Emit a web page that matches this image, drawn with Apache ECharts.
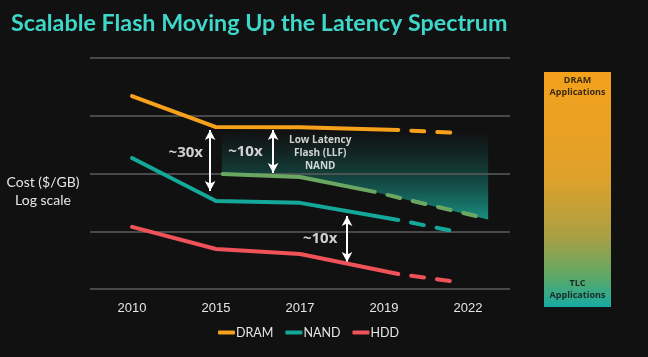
<!DOCTYPE html>
<html><head><meta charset="utf-8">
<script src="https://cdn.jsdelivr.net/npm/echarts@6/dist/echarts.min.js"></script>
<style>html,body{margin:0;padding:0;background:#111111;}#c{width:648px;height:357px;}</style>
</head><body><div id="c"></div>
<script>
// ---- data ----
const categories = ['2010', '2015', '2017', '2019', '2022'];
// x positions (in category-index units) of the plotted points
const solidX = [0, 1, 2, 3.17];
const dashX = [3.17, 3.88];
const dramSolid = [2190, 638, 630, 565];
const dramDash = [565, 503];
const nandSolid = [185, 33.4, 31, 15.7];
const nandDash = [15.7, 9.7];
const hddSolid = [11.9, 4.93, 4.04, 1.82];
const hddDash = [1.82, 1.32];
const llfSolidX = [1.08, 2.0, 2.89];
const llfSolid = [98, 87, 48];
const llfDashX = [2.89, 4.19];
const llfDash = [48, 17];
// LLF opportunity region (upper edge, then lower edge along LLF line)
const regionX = [1.07, 4.24, 4.24, 2.89, 2.0, 1.07];
const regionY = [560, 470, 16, 48, 87, 98];
// arrows: [x, fromValue, toValue]
const arrows = [[0.93, 566, 49.8], [1.68, 566, 102], [2.56, 18.4, 2.93]];
const arrowLabels = [[0.64, 226, '~30x'], [1.35, 235, '~10x'], [2.24, 7.3, '~10x']];
const llfLabel = [[2.24, 226, 'Low Latency\nFlash (LLF)\nNAND']];

const C = {dram: '#f6a11c', nand: '#14a89b', hdd: '#f0525a', llf: '#6aa862'};
const zip = (xs, ys) => xs.map((x, i) => [x, ys[i]]);

function lineSeries(name, xs, ys, color, dashed) {
  return {
    name: name, type: 'line', xAxisIndex: 1, data: zip(xs, ys),
    symbol: 'none', silent: true, z: 5,
    lineStyle: {color: color, width: 4, cap: 'round', join: 'round',
      type: dashed ? [13, 13] : 'solid', dashOffset: dashed ? 13 : 0},
    itemStyle: {color: color}
  };
}

const chart = echarts.init(document.getElementById('c'));
chart.setOption({
  backgroundColor: '#111111',
  animation: false,
  title: {
    text: 'Scalable Flash Moving Up the Latency Spectrum',
    left: 6, top: 7,
    textStyle: {color: '#3ed7c9', fontSize: 23.3, fontWeight: 'bold', fontFamily: 'Lato, DejaVu Sans'}
  },
  grid: {left: 90, right: 138, top: 58, bottom: 68},
  legend: {
    data: ['DRAM', 'NAND', 'HDD'], bottom: 13, left: 213,
    icon: 'roundRect', itemWidth: 17, itemHeight: 4, itemGap: 12,
    textStyle: {color: '#e6e6e6', fontSize: 12.5, fontFamily: 'Lato, Liberation Sans', padding: [0, 0, 0, -4]}
  },
  xAxis: [
    {type: 'category', data: categories, boundaryGap: true, position: 'bottom',
      axisLine: {show: false}, axisTick: {show: false}, splitLine: {show: false},
      axisLabel: {color: '#e6e6e6', fontSize: 13, margin: 13, fontFamily: 'Liberation Sans, Arial'}},
    {type: 'value', min: -0.5, max: 4.5, show: false}
  ],
  yAxis: {
    type: 'log', logBase: 10, min: 1, max: 10000,
    axisLine: {show: false}, axisTick: {show: false}, axisLabel: {show: false},
    splitLine: {lineStyle: {color: '#5c5c5c', width: 1.5}}
  },
  graphic: [
    {type: 'text', x: 43, y: 173, style: {text: 'Cost ($/GB)\nLog scale', fill: '#e6e6e6', fontSize: 14, lineHeight: 18, textAlign: 'center', align: 'center', fontFamily: 'Lato, Liberation Sans'}},
    {type: 'rect', shape: {x: 544, y: 72, width: 67, height: 235},
      style: {fill: new echarts.graphic.LinearGradient(0, 0, 0, 1, [
        {offset: 0, color: '#f4a11c'}, {offset: 0.45, color: '#dfa12a'},
        {offset: 0.7, color: '#a9a043'}, {offset: 0.87, color: '#5da866'}, {offset: 1, color: '#16aca2'}])}},
    {type: 'text', x: 577.5, y: 74, style: {text: 'DRAM\nApplications', fill: '#3a2a12', fontSize: 9, fontWeight: 'bold', lineHeight: 12, textAlign: 'center', align: 'center', fontFamily: 'Open Sans, DejaVu Sans'}},
    {type: 'text', x: 577.5, y: 277, style: {text: 'TLC\nApplications', fill: '#1c2a24', fontSize: 9, fontWeight: 'bold', lineHeight: 12, textAlign: 'center', align: 'center', fontFamily: 'Open Sans, DejaVu Sans'}}
  ],
  series: [
    {
      type: 'custom', xAxisIndex: 1, silent: true, z: -1,
      data: [0],
      renderItem: function (params, api) {
        const pts = regionX.map((x, i) => api.coord([x, regionY[i]]));
        return {type: 'polygon', shape: {points: pts},
          style: {fill: new echarts.graphic.LinearGradient(0, 0, 0, 1, [
            {offset: 0, color: 'rgba(20,70,66,0)'}, {offset: 0.45, color: 'rgba(20,85,78,0.6)'},
            {offset: 1, color: 'rgba(25,150,135,0.95)'}])}};
      }
    },
    lineSeries('DRAM', solidX, dramSolid, C.dram, false),
    lineSeries('DRAM', dashX, dramDash, C.dram, true),
    lineSeries('NAND', solidX, nandSolid, C.nand, false),
    lineSeries('NAND', dashX, nandDash, C.nand, true),
    lineSeries('HDD', solidX, hddSolid, C.hdd, false),
    lineSeries('HDD', dashX, hddDash, C.hdd, true),
    lineSeries('LLF', llfSolidX, llfSolid, C.llf, false),
    lineSeries('LLF', llfDashX, llfDash, C.llf, true),
    {
      type: 'scatter', xAxisIndex: 1, symbolSize: 0, silent: true, z: 10,
      data: arrowLabels,
      label: {show: true, position: 'inside', formatter: p => p.data[2], color: '#ffffff', fontSize: 15, fontWeight: 'bold', fontFamily: 'Open Sans, DejaVu Sans'},
      markLine: {
        silent: true, symbol: ['arrow', 'arrow'], symbolSize: [8, 10], precision: 3,
        lineStyle: {color: '#ffffff', width: 2, type: 'solid'}, label: {show: false},
        data: arrows.map(a => [{coord: [a[0], a[1]]}, {coord: [a[0], a[2]]}])
      }
    },
    {
      type: 'scatter', xAxisIndex: 1, symbolSize: 0, silent: true, z: 10,
      data: llfLabel,
      label: {show: true, position: 'inside', formatter: p => p.data[2], color: '#ffffff', fontSize: 10, fontWeight: 'bold', lineHeight: 13, align: 'center', fontFamily: 'Open Sans, DejaVu Sans'}
    }
  ]
});
</script></body></html>
